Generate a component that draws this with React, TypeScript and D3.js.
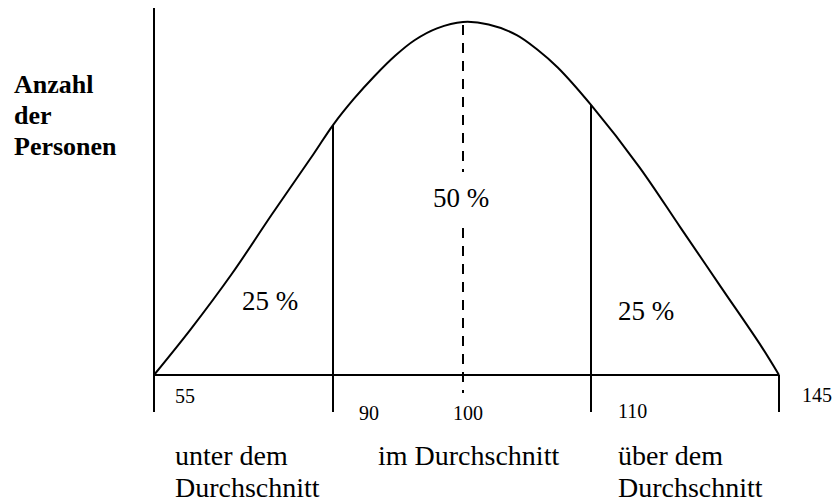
import React, { useEffect, useRef } from 'react';
import * as d3 from 'd3';

// IQ values marked on the axis
const tickValues = [55, 90, 100, 110, 145];
const tickLabels = ['55', '90', '100', '110', '145'];

// curve: IQ value and relative count (0..100)
const curveIQ = [55, 62.2, 70.2, 78.1, 86.2, 90, 91.6, 93.2, 94.8, 96.3, 98, 100, 102, 104.2, 105.8, 107.4, 110, 119, 126.6, 134.2, 141.8, 145];
const curveCount = [0, 13, 28.6, 45.6, 62.6, 70.8, 78.2, 84.7, 90.5, 94.9, 98.2, 100, 99.3, 96.3, 92.2, 87.1, 76.5, 58.9, 41.9, 24.9, 7.9, 0];

// section shares
const shareLabels = ['25 %', '50 %', '25 %'];
const groupLabels = [
  ['unter dem', 'Durchschnitt'],
  ['im Durchschnitt'],
  ['über dem', 'Durchschnitt'],
];
const yTitle = ['Anzahl', 'der', 'Personen'];

const W = 836;
const H = 504;
const FONT = '"Liberation Serif", "Times New Roman", serif';

const App = () => {
  const ref = useRef<SVGSVGElement>(null);

  useEffect(() => {
    const svg = d3.select(ref.current);
    svg.selectAll('*').remove();

    // the drawing is schematic, so the axis is piecewise linear
    const x = d3.scaleLinear().domain(tickValues).range([154, 333, 463, 591, 779]);
    const y = d3.scaleLinear().domain([0, 100]).range([375, 22]);
    const axisY = y(0);
    const tickBottom = 412;

    const pts = curveIQ.map((v, i) => [v, curveCount[i]] as [number, number]);
    const countAt = (v: number) => {
      const i = curveIQ.indexOf(v);
      return i >= 0 ? curveCount[i] : 0;
    };

    // left axis
    svg.append('line')
      .attr('x1', x(55)).attr('x2', x(55))
      .attr('y1', 8).attr('y2', tickBottom)
      .attr('stroke', '#000').attr('stroke-width', 2);

    // x axis
    svg.append('line')
      .attr('x1', x(55)).attr('x2', x(145))
      .attr('y1', axisY).attr('y2', axisY)
      .attr('stroke', '#000').attr('stroke-width', 2);

    // 145 tick
    svg.append('line')
      .attr('x1', x(145)).attr('x2', x(145))
      .attr('y1', axisY).attr('y2', tickBottom)
      .attr('stroke', '#000').attr('stroke-width', 2);

    // section borders 90 and 110
    [90, 110].forEach((v) => {
      svg.append('line')
        .attr('x1', x(v)).attr('x2', x(v))
        .attr('y1', y(countAt(v))).attr('y2', tickBottom)
        .attr('stroke', '#000').attr('stroke-width', 2);
    });

    // dashed mean line, broken round the 50 % label
    [[y(100) + 3, 172], [228, 393]].forEach(([a, b]) => {
      svg.append('line')
        .attr('x1', x(100)).attr('x2', x(100))
        .attr('y1', a).attr('y2', b)
        .attr('stroke', '#000').attr('stroke-width', 2)
        .attr('stroke-dasharray', '10,8');
    });

    // bell curve
    const line = d3.line<[number, number]>()
      .x((d) => x(d[0]))
      .y((d) => y(d[1]))
      .curve(d3.curveCatmullRom.alpha(0.5));

    svg.append('path')
      .datum(pts)
      .attr('d', line)
      .attr('fill', 'none')
      .attr('stroke', '#000')
      .attr('stroke-width', 2);

    // tick labels
    const tickOffset = [[21, 403], [26, 420], [-10, 420], [27, 418], [23, 402]];
    svg.selectAll('text.tick')
      .data(tickLabels)
      .enter()
      .append('text')
      .attr('class', 'tick')
      .attr('x', (d, i) => x(tickValues[i]) + tickOffset[i][0])
      .attr('y', (d, i) => tickOffset[i][1])
      .attr('font-family', FONT)
      .attr('font-size', 20)
      .attr('fill', '#000')
      .text((d) => d);

    // shares
    const sharePos = [[242, 310], [433, 207], [618, 320]];
    svg.selectAll('text.share')
      .data(shareLabels)
      .enter()
      .append('text')
      .attr('class', 'share')
      .attr('x', (d, i) => sharePos[i][0])
      .attr('y', (d, i) => sharePos[i][1])
      .attr('font-family', FONT)
      .attr('font-size', 27)
      .attr('fill', '#000')
      .text((d) => d);

    // group names below the axis
    const groupX = [175, 378, 618];
    groupLabels.forEach((lines, i) => {
      lines.forEach((t, j) => {
        svg.append('text')
          .attr('x', groupX[i])
          .attr('y', 465 + j * 32)
          .attr('font-family', FONT)
          .attr('font-size', 28)
          .attr('fill', '#000')
          .text(t);
      });
    });

    // y title
    yTitle.forEach((t, j) => {
      svg.append('text')
        .attr('x', 14)
        .attr('y', 93 + j * 31)
        .attr('font-family', FONT)
        .attr('font-size', 26)
        .attr('font-weight', 'bold')
        .attr('fill', '#000')
        .text(t);
    });
  }, []);

  return (
    <svg
      ref={ref}
      width={W}
      height={H}
      style={{ position: 'absolute', left: 0, top: 0, background: '#fff' }}
    />
  );
};

export default App;
